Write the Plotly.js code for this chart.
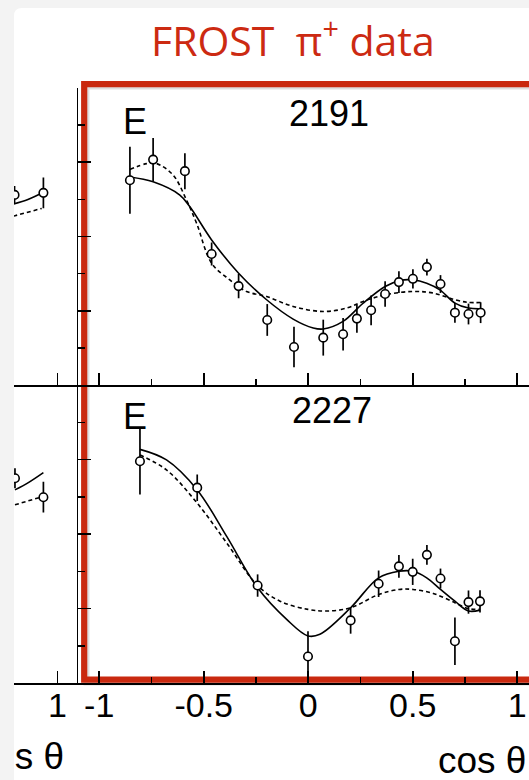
<!DOCTYPE html>
<html><head><meta charset="utf-8">
<script src="https://cdn.plot.ly/plotly-3.0.1.min.js"></script>
<style>html,body{margin:0;padding:0;background:#f3f3f3;}#chart{width:529px;height:780px;}</style>
</head><body><div id="chart"></div>
<script>
// ---------- data (E vs cos theta) ----------
const tickVals = [-1, -0.5, 0, 0.5, 1];
const tickText = ['-1', '-0.5', '0', '0.5', '1'];
const panelLabels = ['2191', '2227'];
const obsLabel = 'E';
const titleText = 'FROST&nbsp; π<sup>+</sup> data';
const axisTitle = 'cos θ';

// panel W = 2191
const cosT = [-0.853,-0.742,-0.590,-0.462,-0.333,-0.196,-0.068,0.072,0.167,0.233,0.301,0.368,0.434,0.501,0.568,0.633,0.702,0.767,0.825];
const eT   = [0.379,0.518,0.44,-0.118,-0.334,-0.562,-0.744,-0.681,-0.658,-0.553,-0.497,-0.387,-0.307,-0.285,-0.206,-0.32,-0.513,-0.522,-0.513];
const errT = [0.226,0.146,0.121,0.078,0.082,0.107,0.137,0.121,0.11,0.095,0.1,0.086,0.073,0.065,0.056,0.06,0.067,0.07,0.07];
const solidXT = [-0.853,-0.742,-0.614,-0.566,-0.462,-0.333,-0.199,-0.072,0.024,0.072,0.167,0.263,0.368,0.439,0.502,0.567,0.630,0.702,0.767,0.825];
const solidYT = [0.401,0.368,0.279,0.2,-0.023,-0.247,-0.426,-0.556,-0.616,-0.623,-0.572,-0.449,-0.337,-0.296,-0.292,-0.314,-0.359,-0.449,-0.482,-0.487];
const dotXT = [-0.853,-0.773,-0.725,-0.646,-0.582,-0.534,-0.462,-0.375,-0.295,-0.199,-0.072,0.072,0.184,0.263,0.368,0.502,0.598,0.702,0.767,0.825];
const dotYT = [0.451,0.491,0.491,0.413,0.245,0.089,-0.18,-0.292,-0.37,-0.404,-0.471,-0.505,-0.482,-0.437,-0.393,-0.37,-0.381,-0.426,-0.444,-0.444];

// panel W = 2227
const cosB = [-0.805,-0.531,-0.242,-0.001,0.203,0.337,0.434,0.5,0.568,0.633,0.702,0.767,0.822];
const eB   = [0.488,0.311,-0.346,-0.822,-0.58,-0.334,-0.217,-0.254,-0.14,-0.299,-0.72,-0.457,-0.452];
const errB = [0.223,0.089,0.075,0.17,0.089,0.089,0.076,0.088,0.067,0.067,0.159,0.078,0.075];
const solidXB = [-0.805,-0.678,-0.531,-0.39,-0.242,-0.103,-0.001,0.056,0.203,0.337,0.434,0.502,0.567,0.633,0.702,0.767,0.822];
const solidYB = [0.568,0.497,0.296,-0.016,-0.361,-0.573,-0.684,-0.673,-0.495,-0.294,-0.25,-0.25,-0.294,-0.372,-0.451,-0.517,-0.511];
const dotXB = [-0.805,-0.678,-0.531,-0.39,-0.242,-0.135,-0.001,0.088,0.203,0.337,0.434,0.502,0.598,0.702,0.767,0.822];
const dotYB = [0.53,0.43,0.207,-0.06,-0.346,-0.451,-0.506,-0.517,-0.495,-0.406,-0.372,-0.372,-0.399,-0.461,-0.501,-0.506];

// neighbouring (cut-off) panels on the left
const cosLT = [0.795, 0.933];
const eLT   = [0.28, 0.294];
const errLT = [0.06, 0.104];
const solidXLT = [0.789, 0.859, 0.933];
const solidYLT = [0.218, 0.249, 0.298];
const dotXLT = [0.789, 0.925];
const dotYLT = [0.137, 0.189];
const cosLB = [0.797, 0.933];
const eLB   = [0.374, 0.247];
const errLB = [0.067, 0.103];
const solidXLB = [0.797, 0.861, 0.933];
const solidYLB = [0.296, 0.345, 0.412];
const dotXLB = [0.797, 0.919];
const dotYLB = [0.196, 0.247];

// ---------- layout helpers ----------
const W = 529, H = 780;
const fx = p => p / W;
const fy = p => 1 - p / H;
const XL = 78.3, XS = 14;            // column split / left visible edge (px)
const colL = [fx(XS), fx(XL)], colM = [fx(XL), 1];
const rowU = [fy(88), fy(5)], rowT = [fy(385), fy(88)], rowB = [fy(683), fy(385)];
const pxPerX = 209, pxPerY = 148.7;
const rangeM = [-1.1, -1.1 + (W - XL) / pxPerX];
const rangeL = [1.1 - (XL - XS) / pxPerX, 1.1];
const rangeU = [-1, -1 + (88 - 5) / pxPerY];

const minorStyle = {ticks: 'inside', ticklen: 6, tickwidth: 1.5, tickcolor: '#000', dtick: 0.25, tick0: 0, showgrid: false};
function xAx(domain, range, anchor, labels) {
  return {domain, range, anchor, showline: true, linecolor: '#000', linewidth: 1.8,
    ticks: 'inside', ticklen: 12, tickwidth: 1.6, tickcolor: '#000',
    tickmode: 'array', tickvals: tickVals, ticktext: tickText,
    showticklabels: labels, showgrid: false, zeroline: false, fixedrange: true,
    tickfont: {family: 'Liberation Sans, Arial, sans-serif', size: 34, color: '#000'},
    ticklabelstandoff: -9, minor: minorStyle};
}
function yAx(domain, range, anchor, show) {
  if (!show) return {domain, range, anchor, visible: false, fixedrange: true};
  return {domain, range, anchor, showline: true, linecolor: '#000', linewidth: 1.8,
    ticks: 'inside', ticklen: 13, tickwidth: 1.6, tickcolor: '#000',
    tickmode: 'array', tickvals: [-0.5, 0, 0.5], showticklabels: false,
    showgrid: false, zeroline: false, fixedrange: true,
    minor: Object.assign({}, minorStyle, {ticklen: 7})};
}

const layout = {
  width: W, height: H, autosize: false,
  margin: {l: 0, r: 0, t: 0, b: 0, pad: 0},
  paper_bgcolor: '#f3f3f3', plot_bgcolor: 'rgba(0,0,0,0)',
  showlegend: false,
  xaxis:  xAx(colM, rangeM, 'y', false),  yaxis:  yAx(rowU, rangeU, 'x', true),
  xaxis2: xAx(colM, rangeM, 'y2', false), yaxis2: yAx(rowT, [-1, 1], 'x2', true),
  xaxis3: xAx(colM, rangeM, 'y3', true),  yaxis3: yAx(rowB, [-1, 1], 'x3', true),
  xaxis4: xAx(colL, rangeL, 'y4', false), yaxis4: yAx(rowU, rangeU, 'x4', false),
  xaxis5: xAx(colL, rangeL, 'y5', false), yaxis5: yAx(rowT, [-1, 1], 'x5', false),
  xaxis6: xAx(colL, rangeL, 'y6', true),  yaxis6: yAx(rowB, [-1, 1], 'x6', false),
  xaxis7: {domain: colL, range: [0, 1], anchor: 'y7', visible: false, fixedrange: true},
  yaxis7: {domain: [0, fy(690)], range: [0, 1], anchor: 'x7', visible: false, fixedrange: true},
  shapes: [
    {type: 'path', xref: 'paper', yref: 'paper', layer: 'below',
     path: `M ${fx(XS)} ${fy(800)} L ${fx(XS)} ${fy(16)} Q ${fx(XS)} ${fy(8)} ${fx(XS + 8)} ${fy(8)} L ${fx(560)} ${fy(8)} L ${fx(560)} ${fy(800)} Z`,
     fillcolor: '#ffffff', line: {width: 0}},
    {type: 'rect', xref: 'paper', yref: 'paper', layer: 'below',
     x0: fx(86.5), x1: fx(560), y0: fy(682.5), y1: fy(86.5),
     line: {color: 'rgba(0,0,0,0.13)', width: 6}},
    {type: 'rect', xref: 'paper', yref: 'paper', layer: 'below',
     x0: fx(84.2), x1: fx(560), y0: fy(679.7), y1: fy(84.2),
     line: {color: '#c9290f', width: 6.2}},
    // page margin drawn over the cut-off neighbouring panel
    {type: 'rect', xref: 'paper', yref: 'paper', layer: 'above',
     x0: fx(-5), x1: fx(XS), y0: fy(800), y1: fy(-5),
     fillcolor: '#f3f3f3', line: {width: 0}}
  ],
  annotations: [
    {text: titleText, xref: 'paper', yref: 'paper', x: fx(292.7), y: fy(38), xanchor: 'center', yanchor: 'middle',
     showarrow: false, font: {family: 'Open Sans, sans-serif', size: 41, color: '#cc2a12'}},
    {text: panelLabels[0], xref: 'paper', yref: 'paper', x: fx(329), y: fy(113.8), xanchor: 'center', yanchor: 'middle',
     showarrow: false, font: {family: 'Liberation Sans, Arial, sans-serif', size: 36, color: '#000'}},
    {text: panelLabels[1], xref: 'paper', yref: 'paper', x: fx(331.5), y: fy(410), xanchor: 'center', yanchor: 'middle',
     showarrow: false, font: {family: 'Liberation Sans, Arial, sans-serif', size: 36, color: '#000'}},
    {text: obsLabel, xref: 'paper', yref: 'paper', x: fx(121), y: fy(121.5), xanchor: 'left', yanchor: 'middle',
     showarrow: false, font: {family: 'Liberation Sans, Arial, sans-serif', size: 36, color: '#000'}},
    {text: obsLabel, xref: 'paper', yref: 'paper', x: fx(121), y: fy(416.7), xanchor: 'left', yanchor: 'middle',
     showarrow: false, font: {family: 'Liberation Sans, Arial, sans-serif', size: 36, color: '#000'}},
    {text: axisTitle, xref: 'paper', yref: 'paper', x: fx(528), y: fy(760), xanchor: 'right', yanchor: 'middle',
     showarrow: false, font: {family: 'Liberation Sans, Arial, sans-serif', size: 37, color: '#000'}}
  ]
};

function curves(xs, ys, dxs, dys, xa, ya) {
  return [
    {x: dxs, y: dys, xaxis: xa, yaxis: ya, mode: 'lines', hoverinfo: 'skip',
     line: {color: '#000', width: 1.6, dash: '4px,3px', shape: 'spline'}},
    {x: xs, y: ys, xaxis: xa, yaxis: ya, mode: 'lines', hoverinfo: 'skip',
     line: {color: '#000', width: 1.6, shape: 'spline'}}
  ];
}
function points(xs, ys, errs, xa, ya) {
  return {x: xs, y: ys, xaxis: xa, yaxis: ya, mode: 'markers', hoverinfo: 'skip',
    marker: {symbol: 'circle', size: 8.5, color: '#fff', line: {color: '#000', width: 1.6}},
    error_y: {type: 'data', array: errs, visible: true, color: '#000', thickness: 1.7, width: 0}};
}

const data = [
  ...curves(solidXT, solidYT, dotXT, dotYT, 'x2', 'y2'),
  points(cosT, eT, errT, 'x2', 'y2'),
  ...curves(solidXB, solidYB, dotXB, dotYB, 'x3', 'y3'),
  points(cosB, eB, errB, 'x3', 'y3'),
  ...curves(solidXLT, solidYLT, dotXLT, dotYLT, 'x5', 'y5'),
  points(cosLT, eLT, errLT, 'x5', 'y5'),
  ...curves(solidXLB, solidYLB, dotXLB, dotYLB, 'x6', 'y6'),
  points(cosLB, eLB, errLB, 'x6', 'y6'),
  {x: [(64 - XS) / (XL - XS)], y: [(780 - 760) / 90], xaxis: 'x7', yaxis: 'y7', mode: 'text',
   text: [axisTitle], textposition: 'middle left', cliponaxis: true, hoverinfo: 'skip',
   textfont: {family: 'Liberation Sans, Arial, sans-serif', size: 37, color: '#000'}}
];

Plotly.newPlot('chart', data, layout, {staticPlot: true, displayModeBar: false});
</script></body></html>
